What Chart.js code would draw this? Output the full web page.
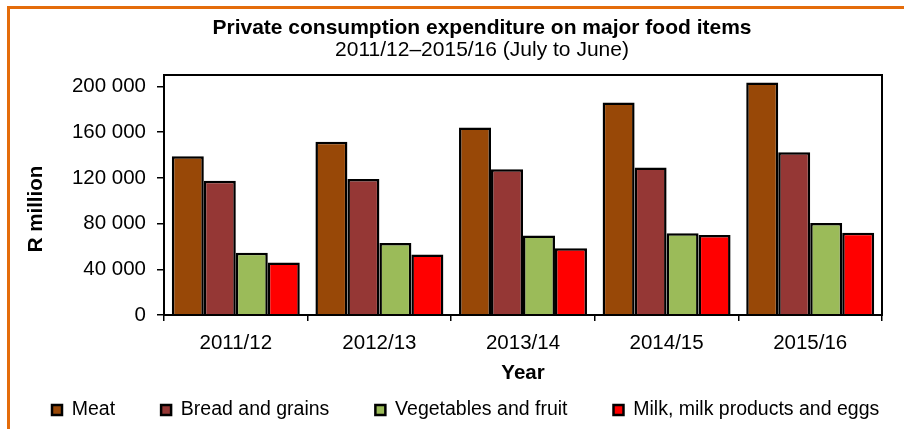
<!DOCTYPE html>
<html>
<head>
<meta charset="utf-8">
<script src="https://cdn.jsdelivr.net/npm/chart.js@4"></script>
<style>
  html, body { margin: 0; padding: 0; background: #fff; }
  #wrap { width: 904px; height: 429px; position: relative; }
</style>
</head>
<body>
<div id="wrap"><canvas id="foodChart"></canvas></div>
<script>
const years = ["2011/12", "2012/13", "2013/14", "2014/15", "2015/16"];
const meat = [139000, 151500, 164000, 186000, 203500];
const breadGrains = [117500, 119000, 127500, 129000, 142500];
const vegFruit = [54500, 63000, 69500, 71500, 80500];
const milkEggs = [46000, 53000, 58500, 70000, 72000];
const yTicks = [0, 40000, 80000, 120000, 160000, 200000];

const FONT = '"Liberation Sans", Arial, sans-serif';

// orange outer frame, black plot frame, rotated y title, and some layout nudges
const extras = {
  id: "extras",
  beforeLayout(chart) {
    chart.legend.options.labels.padding = 37;
  },
  afterLayout(chart) {
    chart.boxes.forEach((b) => {
      if (b.options && b.options.position === "top" && b.options.text) {
        b.left += 41;
        b.right += 41;
      }
    });
    const lg = chart.legend;
    lg.options.labels.padding = 46;
    lg.left = 52 - 46;
    lg.right = 2000;
    lg.top = 410 - 46 - 9.75;
  },
  beforeDraw(chart) {
    const ctx = chart.ctx;
    ctx.save();
    ctx.fillStyle = "#fff";
    ctx.fillRect(0, 0, chart.width, chart.height);
    ctx.fillStyle = "#E46C0A";
    ctx.fillRect(7, 6, chart.width, 3);
    ctx.fillRect(7, 6, 3, chart.height);
    ctx.restore();
  },
  afterDatasetsDraw(chart) {
    const a = chart.chartArea;
    const ctx = chart.ctx;
    ctx.save();
    ctx.strokeStyle = "#000";
    ctx.lineWidth = 2;
    ctx.strokeRect(a.left, a.top, a.right - a.left, a.bottom - a.top);
    ctx.restore();
  },
  afterDraw(chart) {
    const ctx = chart.ctx;
    ctx.save();
    ctx.translate(36, 209);
    ctx.rotate(-Math.PI / 2);
    ctx.font = "bold 20.5px " + FONT;
    ctx.fillStyle = "#000";
    ctx.textAlign = "center";
    ctx.textBaseline = "middle";
    ctx.fillText("R million", 0, 0);
    ctx.restore();
  },
};

const canvas = document.getElementById("foodChart");
let foodChart = new Chart(canvas, {
  type: "bar",
  data: {
    labels: years,
    datasets: [
      { label: "Meat", data: meat, backgroundColor: "#984807" },
      { label: "Bread and grains", data: breadGrains, backgroundColor: "#953735" },
      { label: "Vegetables and fruit", data: vegFruit, backgroundColor: "#9BBB59" },
      { label: "Milk, milk products and eggs", data: milkEggs, backgroundColor: "#FF0000" },
    ].map((d) => ({ ...d, borderColor: "#000", borderWidth: 2.5 })),
  },
  options: {
    responsive: true,
    maintainAspectRatio: false,
    animation: false,
    events: [],
    layout: { padding: { top: 0, left: 0, right: 22, bottom: 1.5 } },
    datasets: { bar: { barPercentage: 1, categoryPercentage: 0.891 } },
    plugins: {
      title: {
        display: true,
        text: "Private consumption expenditure on major food items",
        color: "#000",
        font: { family: FONT, size: 21, weight: "bold", lineHeight: 1 },
        padding: { top: 18, bottom: 0 },
      },
      subtitle: {
        display: true,
        text: "2011/12\u20132015/16 (July to June)",
        color: "#000",
        font: { family: FONT, size: 21, lineHeight: 1 },
        padding: { top: 1, bottom: 14 },
      },
      legend: {
        position: "bottom",
        align: "start",
        labels: {
          color: "#000",
          font: { family: FONT, size: 19.5 },
          boxWidth: 10,
          boxHeight: 10,
          padding: 37,
        },
      },
      tooltip: { enabled: false },
    },
    scales: {
      x: {
        afterFit: (s) => { s.height = 46; },
        grid: { offset: true, drawOnChartArea: false, color: "#000", lineWidth: 1.5, tickLength: 6 },
        border: { color: "#000", width: 2 },
        ticks: { color: "#000", font: { family: FONT, size: 20.5 }, padding: 10, maxRotation: 0 },
        title: {
          display: true,
          text: "Year",
          color: "#000",
          font: { family: FONT, size: 20.5, weight: "bold", lineHeight: 1.2 },
          padding: { top: 0, bottom: -25 },
        },
      },
      y: {
        min: 0,
        max: 210000,
        afterFit: (s) => { s.width = 164; },
        afterBuildTicks: (s) => { s.ticks = yTicks.map((v) => ({ value: v })); },
        grid: { drawOnChartArea: false, color: "#000", lineWidth: 1.5, tickLength: 7 },
        border: { color: "#000", width: 2 },
        ticks: {
          color: "#000",
          font: { family: FONT, size: 20.5 },
          padding: 11,
          callback: (v) => String(v).replace(/\B(?=(\d{3})+(?!\d))/g, " "),
        },
      },
    },
  },
  plugins: [extras],
});
</script>
</body>
</html>
